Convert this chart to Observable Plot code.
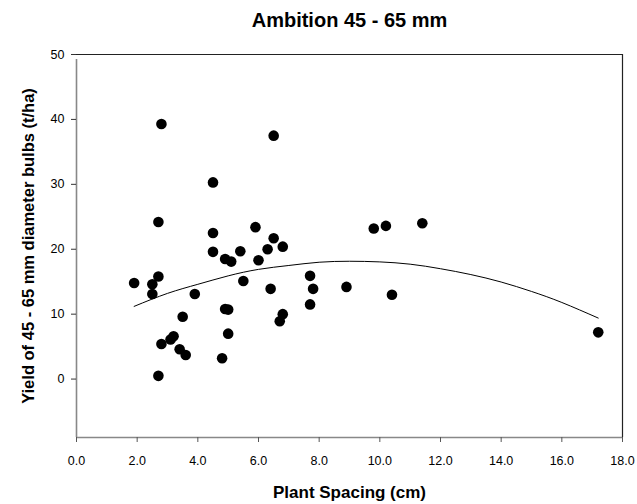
<!DOCTYPE html>
<html>
<head>
<meta charset="utf-8">
<script src="https://cdn.jsdelivr.net/npm/d3@7"></script>
<script src="https://cdn.jsdelivr.net/npm/@observablehq/plot@0.6"></script>
<style>
  html, body { margin: 0; padding: 0; background: #fff; }
  #chart svg { display: block; }
</style>
</head>
<body>
<div id="chart"></div>
<script>
// Observed points: plant spacing (cm) and yield (t/ha)
const spacing = [1.9, 2.5, 2.5, 2.7, 2.7, 2.7, 2.8, 3.1, 3.2, 3.4, 3.6, 3.5, 3.9,
  4.5, 4.5, 4.8, 4.9, 5.1, 4.9, 5.0, 5.0, 5.4, 5.5, 5.9, 6.0, 6.3, 6.5, 6.8,
  6.4, 6.8, 6.7, 7.7, 7.8, 7.7, 8.9, 2.8, 6.5, 4.5, 9.8, 10.2, 11.4, 10.4, 17.2];
const yieldT = [14.8, 14.6, 13.1, 15.8, 24.2, 0.5, 5.4, 6.1, 6.6, 4.6, 3.7, 9.6, 13.1,
  22.5, 19.6, 3.2, 18.5, 18.1, 10.8, 10.7, 7.0, 19.7, 15.1, 23.4, 18.3, 20.0, 21.7, 20.4,
  13.9, 10.0, 8.9, 15.9, 13.9, 11.5, 14.2, 39.3, 37.5, 30.3, 23.2, 23.6, 24.0, 13.0, 7.2];

// Fitted curve
const curveX = [1.9, 3, 4, 5, 6, 7, 8, 9, 10, 11, 12, 13, 14, 15, 16, 17.2];
const curveY = [11.2, 13.2, 14.6, 15.9, 16.9, 17.5, 18.0, 18.15, 18.05, 17.7, 17.0, 16.1, 14.95, 13.5, 11.8, 9.4];

// Axis ticks
const xTicks = [0, 2, 4, 6, 8, 10, 12, 14, 16, 18];
const yTicks = [0, 10, 20, 30, 40, 50];

const title = "Ambition 45 - 65 mm";
const xLabel = "Plant Spacing (cm)";
const yLabel = "Yield of 45 - 65 mm diameter bulbs (t/ha)";

const points = spacing.map((x, i) => ({x, y: yieldT[i]}));
const curve = curveX.map((x, i) => ({x, y: curveY[i]}));

const chart = Plot.plot({
  width: 637,
  height: 504,
  marginLeft: 76,
  marginRight: 15,
  marginTop: 54,
  marginBottom: 67,
  style: {fontFamily: "Arial, 'Liberation Sans', sans-serif", fontSize: "12px", color: "#000", background: "#fff"},
  x: {domain: [0, 18], ticks: xTicks, label: null},
  y: {domain: [-9, 50], ticks: yTicks, label: null},
  marks: [
    // frame: top and right dark, left and bottom gray
    Plot.ruleY([50], {stroke: "#222", strokeWidth: 1.2}),
    Plot.ruleX([18], {stroke: "#222", strokeWidth: 1.2}),
    Plot.ruleX([0], {y1: -9, y2: 50, stroke: "#888", strokeWidth: 1.6, insetBottom: -5}),
    Plot.ruleY([-9], {stroke: "#888", strokeWidth: 1.6}),
    Plot.axisX({ticks: xTicks, tickFormat: d => d.toFixed(1), tickSize: 5, tickPadding: 14, stroke: "#555", fontSize: 12.5, label: null}),
    Plot.axisY({ticks: yTicks, tickSize: 5, tickPadding: 7, stroke: "#333", fontSize: 12.5, label: null}),
    Plot.line(curve, {x: "x", y: "y", curve: "natural", stroke: "#000", strokeWidth: 1}),
    Plot.dot(points, {x: "x", y: "y", r: 5.3, fill: "#000", stroke: null}),
    Plot.text([title], {frameAnchor: "top", dy: -34, lineAnchor: "middle", fontSize: 20, fontWeight: "bold", fill: "#000"}),
    Plot.text([xLabel], {frameAnchor: "bottom", dy: 55, lineAnchor: "middle", fontSize: 17, fontWeight: "bold", fill: "#000"}),
    Plot.text([yLabel], {frameAnchor: "left", dx: -48, textAnchor: "middle", lineAnchor: "middle", rotate: -90, fontSize: 16.5, fontWeight: "bold", fill: "#000"})
  ]
});
document.getElementById("chart").appendChild(chart);
</script>
</body>
</html>
